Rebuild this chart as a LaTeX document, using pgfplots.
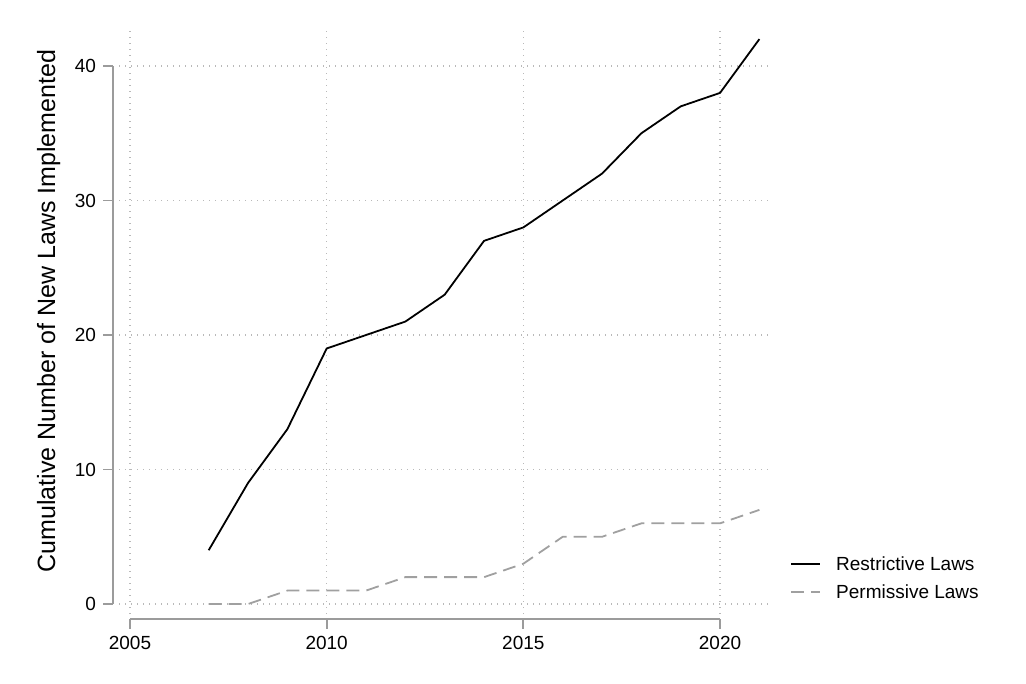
\documentclass[border=0pt]{standalone}
\usepackage{fontspec}
\setmainfont{Liberation Sans}
\usepackage{pgfplots}
\pgfplotsset{compat=1.18}
\definecolor{axgray}{RGB}{155,155,155}
\definecolor{gridgray}{RGB}{185,185,185}
\definecolor{permgray}{RGB}{160,160,160}
\pgfplotsset{
  every tick label/.append style={font=\fontsize{9.5}{11}\selectfont},
  /pgf/number format/assume math mode=true,
  /pgf/number format/1000 sep={},
}
\begin{document}
\begin{tikzpicture}[x=1pt,y=1pt]
\path[use as bounding box] (0,0) rectangle (513,342);
% main plotting area: grid, data, legend
\begin{axis}[
  at={(59.5pt,35pt)}, anchor=south west,
  scale only axis, width=325.5pt, height=293.5pt,
  xmin=2004.72, xmax=2021.27, ymin=-0.74, ymax=42.9,
  xtick={2005,2010,2015,2020}, ytick={0,10,20,30,40},
  xticklabels={}, yticklabels={},
  axis line style={draw=none}, major tick length=0pt, tick style={draw=none},
  grid=major,
  major grid style={gridgray, line width=0.6pt, dash pattern=on 0.6pt off 2.4pt},
  ylabel={Cumulative Number of New Laws Implemented},
  ylabel style={at={(axis description cs:-0.108,0.516)}, anchor=center, font=\fontsize{12.5}{15}\selectfont},
  clip=false,
  legend style={at={(axis description cs:1.0215,0.1056)}, anchor=north west,
    draw=none, fill=none, row sep=5pt,
    nodes={inner sep=0pt, anchor=base west, text height=7pt, text depth=2pt, font=\fontsize{9.5}{11}\selectfont}},
  legend cell align=left,
  legend image code/.code={\draw[#1] (0pt,3.4pt) -- (14.5pt,3.4pt); \path (22pt,0pt);},
]
\addplot[black, line width=0.9pt] coordinates {
 (2007,4) (2008,9) (2009,13) (2010,19) (2011,20) (2012,21) (2013,23) (2014,27)
 (2015,28) (2016,30) (2017,32) (2018,35) (2019,37) (2020,38) (2021,42)};
\addlegendentry{Restrictive Laws}
\addplot[permgray, line width=0.9pt, dash pattern=on 6.5pt off 3.5pt] coordinates {
 (2007,0) (2008,0) (2009,1) (2010,1) (2011,1) (2012,2) (2013,2) (2014,2)
 (2015,3) (2016,5) (2017,5) (2018,6) (2019,6) (2020,6) (2021,7)};
\addlegendentry{Permissive Laws}
\end{axis}
% y axis line (0 to 40)
\begin{axis}[
  at={(56.5pt,40pt)}, anchor=south west,
  scale only axis, width=1pt, height=269pt,
  xmin=0, xmax=1, ymin=0, ymax=40,
  axis y line=left, axis x line=none,
  axis line style={-},
  y axis line style={axgray, line width=0.9pt},
  ytick={0,10,20,30,40}, xtick=\empty,
  tick align=outside, major tick length=5pt,
  ytick style={axgray, line width=0.9pt},
]
\end{axis}
% x axis line (2005 to 2020)
\begin{axis}[
  at={(65pt,32.5pt)}, anchor=south west,
  scale only axis, width=295pt, height=1pt,
  xmin=2005, xmax=2020, ymin=0, ymax=1,
  axis x line=bottom, axis y line=none,
  axis line style={-},
  x axis line style={axgray, line width=0.9pt},
  xtick={2005,2010,2015,2020}, ytick=\empty,
  tick align=outside, major tick length=5pt,
  xtick style={axgray, line width=0.9pt},
]
\end{axis}
\end{tikzpicture}
\end{document}
